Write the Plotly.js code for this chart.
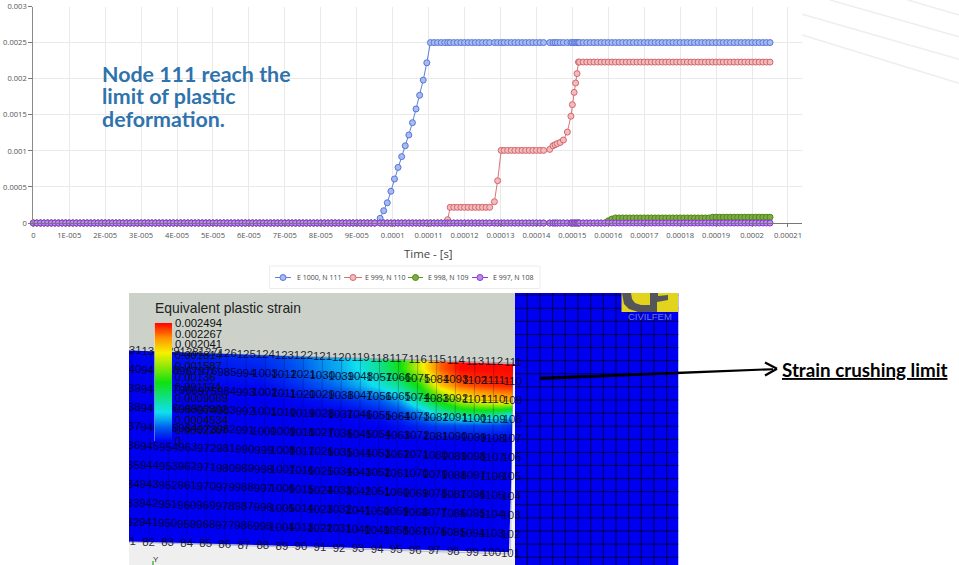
<!DOCTYPE html>
<html><head><meta charset="utf-8">
<script src="https://cdn.plot.ly/plotly-3.0.1.min.js"></script>
<style>html,body{margin:0;padding:0;background:#fff}#chart{width:959px;height:565px}</style>
</head><body><div id="chart"></div>
<script>
// ---------- strain history (time in microseconds, strain in 1e-6) ----------
const time_us=[0,1,2,3,4,5,6,7,8,9,10,11,12,13,14,15,16,17,18,19,20,21,22,23,24,25,26,27,28,29,30,31,32,33,34,35,36,37,38,39,40,41,42,43,44,45,46,47,48,49,50,51,52,53,54,55,56,57,58,59,60,61,62,63,64,65,66,67,68,69,70,71,72,73,74,75,76,77,78,79,80,81,82,83,84,85,86,87,88,89,90,91,92,93,94,95,
96.5,97.5,98.5,99.5,100.5,101.5,102.5,103.5,104.5,105.5,106.5,107.5,108.5,109.5,110.5,
111.5,112.5,113.5,114.5,115.3,
116,117,118,119,120,121,122,123,124,125,126,127,
128.3,129.2,130.2,
131,132,133,134,135,136,137,138,139,140,141,142,
143.7,144.6,145.2,145.8,146.6,147.5,148.6,149.6,150,150.5,150.9,151.3,151.7,
152,153,154,155,156,157,158,159,160,161,162,163,164,165,166,167,168,169,170,171,172,173,174,175,176,177,178,179,180,181,182,183,184,185,186,187,188,189,190,191,192,193,194,195,196,197,198,199,200,201,202,203,204,205];
const e1000_n111=[0,0,0,0,0,0,0,0,0,0,0,0,0,0,0,0,0,0,0,0,0,0,0,0,0,0,0,0,0,0,0,0,0,0,0,0,0,0,0,0,0,0,0,0,0,0,0,0,0,0,0,0,0,0,0,0,0,0,0,0,0,0,0,0,0,0,0,0,0,0,0,0,0,0,0,0,0,0,0,0,0,0,0,0,0,0,0,0,0,0,0,0,0,0,0,0,
65,170,280,440,610,770,920,1070,1220,1390,1580,1770,1980,2220,2500,
2500,2500,2500,2500,2500,
2500,2500,2500,2500,2500,2500,2500,2500,2500,2500,2500,2500,
2500,2500,2500,
2500,2500,2500,2500,2500,2500,2500,2500,2500,2500,2500,2500,
2500,2500,2500,2500,2500,2500,2500,2500,2500,2500,2500,2500,2500,
2500,2500,2500,2500,2500,2500,2500,2500,2500,2500,2500,2500,2500,2500,2500,2500,2500,2500,2500,2500,2500,2500,2500,2500,2500,2500,2500,2500,2500,2500,2500,2500,2500,2500,2500,2500,2500,2500,2500,2500,2500,2500,2500,2500,2500,2500,2500,2500,2500,2500,2500,2500,2500,2500];
const e999_n110=[0,0,0,0,0,0,0,0,0,0,0,0,0,0,0,0,0,0,0,0,0,0,0,0,0,0,0,0,0,0,0,0,0,0,0,0,0,0,0,0,0,0,0,0,0,0,0,0,0,0,0,0,0,0,0,0,0,0,0,0,0,0,0,0,0,0,0,0,0,0,0,0,0,0,0,0,0,0,0,0,0,0,0,0,0,0,0,0,0,0,0,0,0,0,0,0,
0,0,0,0,0,0,0,0,0,0,0,0,0,0,0,
0,0,0,0,46,
217,217,217,217,217,217,217,217,217,217,217,217,
295,586,1006,
1006,1006,1006,1006,1006,1006,1006,1006,1006,1006,1006,1006,
1020,1070,1085,1100,1115,1150,1260,1480,1640,1810,1940,2070,2230,
2230,2230,2230,2230,2230,2230,2230,2230,2230,2230,2230,2230,2230,2230,2230,2230,2230,2230,2230,2230,2230,2230,2230,2230,2230,2230,2230,2230,2230,2230,2230,2230,2230,2230,2230,2230,2230,2230,2230,2230,2230,2230,2230,2230,2230,2230,2230,2230,2230,2230,2230,2230,2230,2230];
const e998_n109=[0,0,0,0,0,0,0,0,0,0,0,0,0,0,0,0,0,0,0,0,0,0,0,0,0,0,0,0,0,0,0,0,0,0,0,0,0,0,0,0,0,0,0,0,0,0,0,0,0,0,0,0,0,0,0,0,0,0,0,0,0,0,0,0,0,0,0,0,0,0,0,0,0,0,0,0,0,0,0,0,0,0,0,0,0,0,0,0,0,0,0,0,0,0,0,0,
0,0,0,0,0,0,0,0,0,0,0,0,0,0,0,
0,0,0,0,0,
0,0,0,0,0,0,0,0,0,0,0,0,
0,0,0,
0,0,0,0,0,0,0,0,0,0,0,0,
0,0,0,0,0,0,0,0,0,0,0,0,0,
0,0,0,0,0,0,0,0,30,55,70,70,70,70,70,70,70,70,70,70,70,70,70,70,70,70,70,70,70,70,70,70,70,70,70,70,70,80,80,80,80,80,80,80,80,80,80,80,80,80,80,80,80,80];
const e997_n108=[0,0,0,0,0,0,0,0,0,0,0,0,0,0,0,0,0,0,0,0,0,0,0,0,0,0,0,0,0,0,0,0,0,0,0,0,0,0,0,0,0,0,0,0,0,0,0,0,0,0,0,0,0,0,0,0,0,0,0,0,0,0,0,0,0,0,0,0,0,0,0,0,0,0,0,0,0,0,0,0,0,0,0,0,0,0,0,0,0,0,0,0,0,0,0,0,
0,0,0,0,0,0,0,0,0,0,0,0,0,0,0,
0,0,0,0,0,
0,0,0,0,0,0,0,0,0,0,0,0,
0,0,0,
0,0,0,0,0,0,0,0,0,0,0,0,
0,0,0,0,0,0,0,0,0,0,0,0,0,
0,0,0,0,0,0,0,0,0,0,0,0,0,0,0,0,0,0,0,0,0,0,0,0,0,0,0,0,0,0,0,0,0,0,0,0,0,0,0,0,0,0,0,0,0,0,0,0,0,0,0,0,0,0];
const seriesNames=['E 1000, N 111','E 999, N 110','E 998, N 109','E 997, N 108'];

const xTickVals=[0,10,20,30,40,50,60,70,80,90,100,110,120,130,140,150,160,170,180,190,200,210];
const xTickText=['0','1E-005','2E-005','3E-005','4E-005','5E-005','6E-005','7E-005','8E-005','9E-005','0.0001','0.00011','0.00012','0.00013','0.00014','0.00015','0.00016','0.00017','0.00018','0.00019','0.0002','0.00021'];
const yTickVals=[0,0.0005,0.001,0.0015,0.002,0.0025,0.003];
const yTickText=['0','0.0005','0.001','0.0015','0.002','0.0025','0.003'];

// ---------- contour legend ----------
const legendLevels=[0,0.0002267,0.0004534,0.0006802,0.0009069,0.001134,0.00136,0.001587,0.001814,0.002041,0.002267,0.002494];
const legendText=['0','0.0002267','0.0004534','0.0006802','0.0009069','0.001134','0.00136','0.001587','0.001814','0.002041','0.002267','0.002494'];

// ---------- strain field as seen on the picture (fraction of the legend range) ----------
const fieldCols=[129,260,280,300,320,340,360,380,400,420,440,460,480,500,513];
const fieldRows=[345,352,368,385,400,413,425,440,555];
const fieldLevels=[
[0,.08,.10,.14,.18,.22,.28,.38,.50,.72,.92,1,1,1,1],
[0,.07,.09,.13,.17,.21,.27,.37,.50,.72,.92,1,1,1,1],
[0,.04,.07,.11,.16,.20,.26,.36,.50,.72,.92,1,1,1,1],
[0,.01,.03,.06,.10,.14,.20,.27,.36,.52,.80,.92,.95,.97,.98],
[0,0,0,.01,.02,.04,.07,.11,.19,.36,.52,.68,.76,.80,.82],
[0,0,0,0,0,0,.01,.03,.07,.16,.30,.38,.40,.36,.28],
[0,0,0,0,0,0,0,0,.02,.05,.08,.09,.09,.08,.06],
[0,0,0,0,0,0,0,0,0,0,0,0,0,0,0],
[0,0,0,0,0,0,0,0,0,0,0,0,0,0,0]];

// ---------- node numbers, one row per mesh line, right to left ----------
const nodeRow0=[111,112,113,114,115,116,117,118,119,120,121,122,123,124,125,126,127,128,129,130,131];
const nodeRow1=[110,1111,1102,1093,1084,1075,1066,1057,1048,1039,1030,1021,1012,1003,994,985,976,967,958,949,940];
const nodeRow2=[109,1110,1101,1092,1083,1074,1065,1056,1047,1038,1029,1020,1011,1002,993,984,975,966,957,948,939];
const nodeRow3=[108,1109,1100,1091,1082,1073,1064,1055,1046,1037,1028,1019,1010,1001,992,983,974,965,956,947,938];
const nodeRow4=[107,1108,1099,1090,1081,1072,1063,1054,1045,1036,1027,1018,1009,1000,991,982,973,964,955,946,937];
const nodeRow5=[106,1107,1098,1089,1080,1071,1062,1053,1044,1035,1026,1017,1008,999,990,981,972,963,954,945,936];
const nodeRow6=[105,1106,1097,1088,1079,1070,1061,1052,1043,1034,1025,1016,1007,998,989,980,971,962,953,944,935];
const nodeRow7=[104,1105,1096,1087,1078,1069,1060,1051,1042,1033,1024,1015,1006,997,988,979,970,961,952,943,934];
const nodeRow8=[103,1104,1095,1086,1077,1068,1059,1050,1041,1032,1023,1014,1005,996,987,978,969,960,951,942,933];
const nodeRow9=[102,1103,1094,1085,1076,1067,1058,1049,1040,1031,1022,1013,1004,995,986,977,968,959,950,941,932];
const nodeRow10=[101,100,99,98,97,96,95,94,93,92,91,90,89,88,87,86,85,84,83,82,81];
const nodeRows=[nodeRow0,nodeRow1,nodeRow2,nodeRow3,nodeRow4,nodeRow5,nodeRow6,nodeRow7,nodeRow8,nodeRow9,nodeRow10];

// ---------- page geometry helpers ----------
const W=959,H=565;
const px=x=>x/W, py=y=>1-y/H;
const meshX=(c,k)=>513-19.05*c-0.25*k;
const meshY=(c,k)=>363+19.1*k-0.0313*19.05*c;

const times=time_us.map(t=>t*1e-6);
const toStrain=a=>a.map(v=>v*1e-6);
const lineStyles=[
 {line:'#5b7fdc',fill:'#a8baf0',edge:'#5676d8'},
 {line:'#d9737a',fill:'#f2bcbc',edge:'#d4666e'},
 {line:'#5e9c1e',fill:'#7dab45',edge:'#4f8a10'},
 {line:'#8f3fdc',fill:'#b88eea',edge:'#8a35d6'}];
const lineData=[e1000_n111,e999_n110,e998_n109,e997_n108];
const traces=lineData.map((d,i)=>({
  type:'scatter',mode:'lines+markers',x:times,y:toStrain(d),name:seriesNames[i],
  xaxis:'x',yaxis:'y',cliponaxis:false,showlegend:false,
  line:{color:lineStyles[i].line,width:1},
  marker:{size:6,color:lineStyles[i].fill,line:{color:lineStyles[i].edge,width:1}}
}));

const jet=[[0,'#0000f0'],[.12,'#0060f0'],[.25,'#10e0f0'],[.5,'#10e010'],[.75,'#f8f000'],[.88,'#ff9000'],[1,'#ff0800']];
// field
traces.push({type:'heatmap',x:fieldCols,y:fieldRows,z:fieldLevels,zmin:0,zmax:1,zsmooth:'best',colorscale:jet,showscale:false,xaxis:'x2',yaxis:'y2',hoverinfo:'skip'});
const poly=(xs,ys,c)=>({type:'scatter',mode:'lines',x:xs,y:ys,fill:'toself',fillcolor:c,line:{width:0,color:c},showlegend:false,xaxis:'x2',yaxis:'y2',hoverinfo:'skip'});
traces.push(poly([129,515,515,513,129],[293,293,364,364,350.5],'#ccd2ca'));
traces.push(poly([129,508,515,515,129],[541.5,552.5,552.5,565,565],'#eeefee'));
traces.push(poly([513,515,515,509,511.5],[366,366,565,553,470],'#f4f4f8'));
traces.push(poly([515,678.5,678.5,515],[293,293,565,565],'#0000f0'));
// right block mesh
const blockLinesX=[],blockLinesY=[];
for(let x=527.3;x<678;x+=12.67){blockLinesX.push(x,x,null);blockLinesY.push(293,565,null);}
for(let y=295.2;y<565;y+=13.1){blockLinesX.push(515,678.5,null);blockLinesY.push(y,y,null);}
traces.push({type:'scatter',mode:'lines',x:blockLinesX,y:blockLinesY,line:{color:'rgba(0,0,50,.85)',width:1},showlegend:false,xaxis:'x2',yaxis:'y2',hoverinfo:'skip'});
// field mesh
const meshLX=[],meshLY=[];
for(let c=0;c<=20;c++){meshLX.push(meshX(c,0),meshX(c,10),null);meshLY.push(meshY(c,0),meshY(c,10),null);}
for(let k=0;k<=10;k++){meshLX.push(meshX(0,k),meshX(20.3,k),null);meshLY.push(meshY(0,k),meshY(20.3,k),null);}
traces.push({type:'scatter',mode:'lines',x:meshLX,y:meshLY,line:{color:'rgba(0,0,60,.24)',width:1},showlegend:false,xaxis:'x2',yaxis:'y2',hoverinfo:'skip'});
// node numbers
const nodeX=[],nodeY=[],nodeT=[];
nodeRows.forEach((r,k)=>r.forEach((n,c)=>{nodeX.push(meshX(c,k));nodeY.push(meshY(c,k));nodeT.push(String(n));}));
traces.push({type:'scatter',mode:'text',x:nodeX,y:nodeY,text:nodeT,textposition:'middle center',cliponaxis:true,
  textfont:{family:'"Liberation Sans",Arial,sans-serif',size:11.5,color:'rgba(0,0,20,.85)'},showlegend:false,xaxis:'x2',yaxis:'y2',hoverinfo:'skip'});
// legend bar
traces.push({type:'heatmap',x:[0,1],y:legendLevels,z:legendLevels.map(v=>[v,v]),zmin:0,zmax:0.002494,zsmooth:'best',
  colorscale:jet,showscale:false,xaxis:'x3',yaxis:'y3',hoverinfo:'skip'});

const gridCol='#e9e9e9';
const textFont='"Open Sans",sans-serif';
const shapeLine=(x0,y0,x1,y1,c,w)=>({type:'line',xref:'paper',yref:'paper',x0:px(x0),y0:py(y0),x1:px(x1),y1:py(y1),line:{color:c,width:w},layer:'above'});
const note=(t,x,y,size,color,fam,anchor)=>({text:t,xref:'paper',yref:'paper',x:px(x),y:py(y),xanchor:anchor||'left',yanchor:'middle',showarrow:false,font:{size,color,family:fam}});
const pathPx=(pts,c)=>({type:'path',xref:'paper',yref:'paper',layer:'above',fillcolor:c,line:{width:0},
  path:'M'+pts.map(p=>px(p[0]).toFixed(5)+','+py(p[1]).toFixed(5)).join('L')+'Z'});
const dot=(x,y,s)=>({type:'circle',xref:'paper',yref:'paper',layer:'above',x0:px(x-3),x1:px(x+3),y0:py(y+3),y1:py(y-3),fillcolor:s.fill,line:{color:s.edge,width:1}});

// legend keys: line start, line end, text start
const legendKeys=[[275,291,296],[344,362,364],[408,423,427],[472,488,492]];
const legendShapes=[{type:'rect',xref:'paper',yref:'paper',layer:'above',x0:px(269.5),x1:px(540),y0:py(288.5),y1:py(266),fillcolor:'#fff',line:{color:'#ececec',width:1}}];
const legendNotes=[];
legendKeys.forEach((k,i)=>{
  legendShapes.push(shapeLine(k[0],277.5,k[1],277.5,lineStyles[i].line,1));
  legendShapes.push(dot((k[0]+k[1])/2,277.5,lineStyles[i]));
  legendNotes.push(note(seriesNames[i],k[2]-1,277.5,7,'#444',textFont));
});

const layout={
  width:W,height:H,margin:{l:0,r:0,t:0,b:0},paper_bgcolor:'#fff',plot_bgcolor:'#fff',showlegend:false,
  xaxis:{domain:[px(33.3),px(802)],range:[0,21.39e-5],anchor:'y',tickmode:'array',tickvals:xTickVals.map(t=>t*1e-6),ticktext:xTickText,
    tickfont:{family:textFont,size:7.6,color:'#555'},ticks:'outside',ticklen:3,tickcolor:'#777',ticklabelstandoff:2,showgrid:true,gridcolor:gridCol,gridwidth:1,
    showline:true,linecolor:'#777',linewidth:1,zeroline:false},
  yaxis:{domain:[py(223),py(6.5)],range:[0,0.003],anchor:'x',tickmode:'array',tickvals:yTickVals,ticktext:yTickText,
    tickfont:{family:textFont,size:7.6,color:'#555'},ticks:'outside',ticklen:4,tickcolor:'#777',showgrid:true,gridcolor:gridCol,gridwidth:1,
    showline:true,linecolor:'#8a8a8a',linewidth:1,zeroline:false},
  xaxis2:{domain:[px(129),px(678.5)],range:[129,678.5],anchor:'y2',visible:false,fixedrange:true},
  yaxis2:{domain:[py(565),py(293)],range:[565,293],anchor:'x2',visible:false,fixedrange:true},
  xaxis3:{domain:[px(154.5),px(172)],range:[0,1],anchor:'y3',visible:false,fixedrange:true},
  yaxis3:{domain:[py(441),py(323)],range:[0,0.002494],anchor:'x3',side:'right',tickmode:'array',tickvals:legendLevels,ticktext:legendText,
    tickfont:{family:'"Liberation Sans",Arial,sans-serif',size:11.3,color:'#111'},ticks:'',ticklen:0,ticklabelstandoff:2,showgrid:false,zeroline:false,showline:false,fixedrange:true},
  annotations:[
    note('Time - [s]',428,253,11.4,'#444',textFont,'center'),
    note('<b>Node 111 reach the</b>',99.5,74,21.4,'#2f73ad','Lato,sans-serif'),
    note('<b>limit of plastic</b>',99.5,96.5,21.4,'#2f73ad','Lato,sans-serif'),
    note('<b>deformation.</b>',99.5,119,21.4,'#2f73ad','Lato,sans-serif'),
    note('Equivalent plastic strain',153,307.5,13.9,'#222','"Liberation Sans",Arial,sans-serif'),
    note('<b><u>Strain crushing limit</u></b>',780,369.5,18.8,'#000','Lato,sans-serif'),
    note('CIVILFEM',650,316.5,9.5,'#6878d8','"Liberation Sans",Arial,sans-serif','center'),
    note('Y',156,559,8,'#333','"Liberation Sans",Arial,sans-serif','center')
  ].concat(legendNotes),
  shapes:[
    shapeLine(802.3,14.3,959,59.3,'#eeeeee',1.5),
    shapeLine(802.3,35,959,83.3,'#eeeeee',1.5),
    shapeLine(830,0,959,36.7,'#eeeeee',1.5),
    shapeLine(908,0,959,15,'#eeeeee',1.5),
    pathPx([[621.5,293],[678,293],[678,312],[621.5,312]],'#e2d41c'),
    pathPx([[622,293],[631,293],[632,299],[635,303],[641,305],[657,305],[657,312],[638,312],[629,309],[624,304]],'#55565a'),
    pathPx([[650,293],[658,293],[658,296],[668,295],[668,300],[657,302],[657,306],[650,306]],'#55565a'),
    pathPx([[540,376.8],[773,368.2],[773,370.2],[540,380]],'#000'),
    shapeLine(765,362.5,777,368.8,'#000',2.2),
    shapeLine(777,368.8,765,375.5,'#000',2.2),
    shapeLine(153,565,153,561,'#2aa02a',1.2)
  ].concat(legendShapes)
};
Plotly.newPlot('chart',traces,layout,{displayModeBar:false,staticPlot:true});
</script></body></html>
